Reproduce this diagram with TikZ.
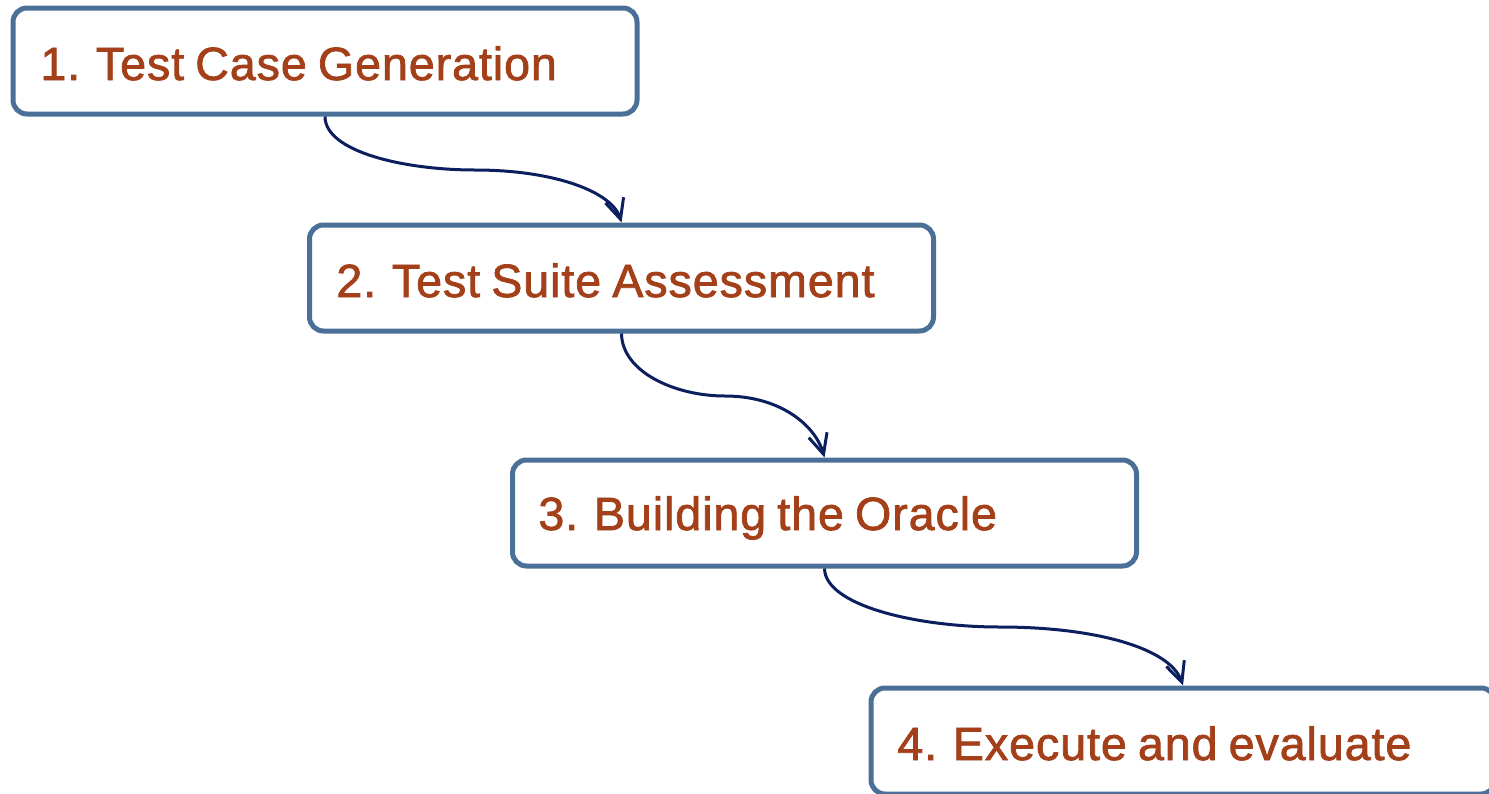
\documentclass[tikz,border=0pt]{standalone}
\usepackage{fontspec}
\setmainfont{Liberation Sans}
\newfontfamily\stepfont[FakeBold=1.6,WordSpace=0.8,LetterSpace=2]{Liberation Sans}
\usetikzlibrary{arrows.meta}
\definecolor{boxblue}{HTML}{4A7098}
\definecolor{navy}{HTML}{0B1F5E}
\definecolor{rust}{HTML}{A3401A}
\tikzset{
  stepbox/.style={draw=boxblue, line width=2.5pt, rounded corners=7pt, fill=white,
    minimum width=312pt, minimum height=53pt, inner sep=0pt},
  steptext/.style={anchor=base west, text=rust, inner sep=0pt,
    font=\stepfont\fontsize{23.3}{28}\selectfont},
  conn/.style={draw=navy, line width=1.5pt,
    -{Straight Barb[length=10pt,width=9.5pt,line width=1.5pt]}},
}
\begin{document}
\begin{tikzpicture}[x=0.5pt,y=-0.5pt]
\useasboundingbox (0,0) rectangle (1489,793);
\clip (0,0) rectangle (1489,793);
\node[stepbox] (b1) at (325,61) {};
\node[stepbox] (b2) at (621.5,278) {};
\node[stepbox] (b3) at (824.5,513) {};
\node[stepbox] (b4) at (1183,741) {};
\node[steptext] (t1) at (40,80) {1. Test Case Generation};
\node[steptext] (t2) at (336,297) {2. Test Suite Assessment};
\node[steptext] (t3) at (538,530) {3. Building the Oracle};
\node[steptext] (t4) at (897,760) {4. Execute and evaluate};
\coordinate (m1) at (475,170);
\coordinate (m2) at (725,396);
\coordinate (m3) at (1000,627);
\draw[conn] (b1.south) .. controls (325,152) and (405,170) .. (m1)
  .. controls (555,170) and (612,192) .. (b2.north);
\draw[conn] (b2.south) .. controls (622,372) and (675,396) .. (m2)
  .. controls (780,396) and (815,425) .. (b3.north);
\draw[conn] (b3.south) .. controls (825,605) and (915,627) .. (m3)
  .. controls (1095,627) and (1170,648) .. (b4.north);
\end{tikzpicture}
\end{document}
